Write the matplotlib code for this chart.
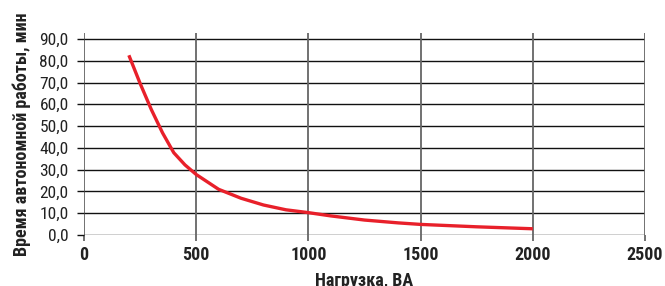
import matplotlib
matplotlib.use('Agg')
import matplotlib.pyplot as plt

plt.rcParams['font.family'] = ['Roboto Condensed', 'Fira Sans Condensed', 'DejaVu Sans']

# load (VA) vs backup time (min)
load = [200, 250, 300, 350, 400, 450, 500, 550, 600, 700, 800, 900,
        1000, 1100, 1250, 1400, 1500, 1750, 2000]
runtime = [82.5, 69.6, 57.6, 46.9, 37.8, 32.2, 27.8, 24.4, 21.0, 16.9, 13.8, 11.6,
           10.3, 8.8, 6.9, 5.6, 4.9, 3.8, 2.9]

x_ticks = [0, 500, 1000, 1500, 2000, 2500]
y_ticks = [0, 10, 20, 30, 40, 50, 60, 70, 80, 90]
y_labels = [('%.1f' % v).replace('.', ',') for v in y_ticks]

fig = plt.figure(figsize=(6.65, 2.86), dpi=100)
ax = fig.add_axes([0.1263, 0.178, 0.8437, 0.705])

for v in y_ticks:
    ax.axhline(v, color='#111111', lw=1.0, zorder=1)
for v in x_ticks:
    ax.axvline(v, color='#666666', lw=1.3, zorder=1)

ax.plot(load, runtime, color='#e8202a', lw=2.4, zorder=3,
        solid_capstyle='butt', solid_joinstyle='round')

ax.set_xlim(0, 2500)
ax.set_ylim(0, 92.5)
ax.set_xticks(x_ticks)
ax.set_xticklabels([str(v) for v in x_ticks], fontsize=13, fontweight='bold', color='#222222')
ax.set_yticks(y_ticks)
ax.set_yticklabels(y_labels, fontsize=12.5, color='#222222')
ax.tick_params(axis='y', length=5, width=1.0, color='#111111', pad=6)
ax.tick_params(axis='x', length=4.5, width=1.3, color='#666666', pad=3)

for s in ax.spines.values():
    s.set_visible(False)

ax.set_xlabel('Нагрузка, ВА', fontsize=13, fontweight='bold', color='#222222', labelpad=6)
ax.set_ylabel('Время автономной работы, мин', fontsize=13, fontweight='bold', color='#222222', labelpad=6)

fig.savefig('out.png', dpi=100)
